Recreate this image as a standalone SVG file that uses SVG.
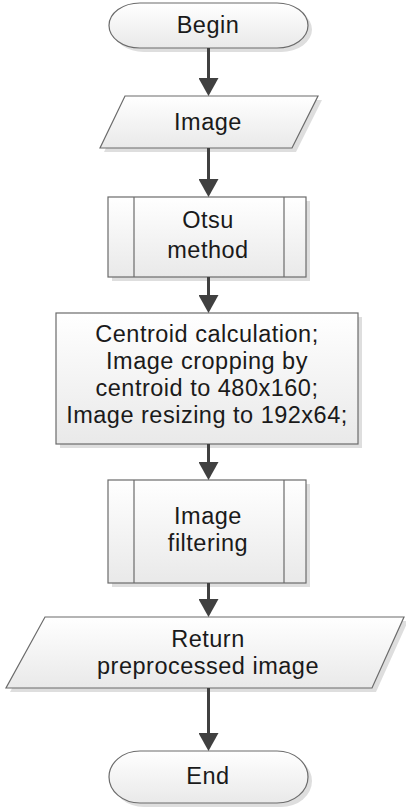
<svg xmlns="http://www.w3.org/2000/svg" width="406" height="809" viewBox="0 0 406 809">
<defs>
<linearGradient id="g" x1="0" y1="0" x2="0" y2="1">
<stop offset="0" stop-color="#ffffff"/>
<stop offset="1" stop-color="#e9e9e9"/>
</linearGradient>
<marker id="ah" viewBox="0 0 18 20" refX="10" refY="10" markerWidth="18" markerHeight="20" markerUnits="userSpaceOnUse" orient="auto">
<path d="M0,0 L18,10 L0,20 z" fill="#404040"/>
</marker>
</defs>
<style>
.sh{fill:#dedede;stroke:none}
.bx{fill:url(#g);stroke:#6b6b6b;stroke-width:1.2}
.in{stroke:#6b6b6b;stroke-width:1.2;fill:none}
.t{font-family:"Liberation Sans",Arial,sans-serif;font-size:23.5px;letter-spacing:0.5px;fill:#1a1a1a;text-anchor:middle}
.c{stroke:#404040;stroke-width:3;fill:none;marker-end:url(#ah)}
</style>
<rect width="406" height="809" fill="#ffffff"/>
<g id="begin">
<path class="sh" transform="translate(4,4)" d="M140,3 H277 A31,22.5 0 0 1 277,48 H140 A31,22.5 0 0 1 140,3 Z"/>
<path class="bx" d="M140,3 H277 A31,22.5 0 0 1 277,48 H140 A31,22.5 0 0 1 140,3 Z"/>
<text class="t" x="208" y="33">Begin</text>
</g>
<g id="image">
<polygon class="sh" transform="translate(4,4)" points="125,96 318,96 292,148 100,148"/>
<polygon class="bx" points="125,96 318,96 292,148 100,148"/>
<text class="t" x="208" y="130">Image</text>
</g>
<g id="otsu">
<rect class="sh" x="112" y="201" width="198" height="80"/>
<rect class="bx" x="108" y="197" width="198" height="80"/>
<line class="in" x1="134" y1="197" x2="134" y2="277"/>
<line class="in" x1="284" y1="197" x2="284" y2="277"/>
<text class="t" x="208" y="228">Otsu</text>
<text class="t" x="208" y="258">method</text>
</g>
<g id="centroid">
<rect class="sh" x="60" y="317" width="302" height="131"/>
<rect class="bx" x="56" y="313" width="302" height="131"/>
<text class="t" x="207" y="342">Centroid calculation;</text>
<text class="t" x="207" y="369">Image cropping by</text>
<text class="t" x="207" y="396">centroid to 480x160;</text>
<text class="t" x="207" y="423">Image resizing to 192x64;</text>
</g>
<g id="filtering">
<rect class="sh" x="112" y="484" width="198" height="103"/>
<rect class="bx" x="108" y="480" width="198" height="103"/>
<line class="in" x1="134" y1="480" x2="134" y2="583"/>
<line class="in" x1="284" y1="480" x2="284" y2="583"/>
<text class="t" x="208" y="524">Image</text>
<text class="t" x="208" y="551">filtering</text>
</g>
<g id="return">
<polygon class="sh" transform="translate(4,4)" points="45,617 404,617 372,688 6,688"/>
<polygon class="bx" points="45,617 404,617 372,688 6,688"/>
<text class="t" x="208" y="647">Return</text>
<text class="t" x="208" y="674">preprocessed image</text>
</g>
<g id="end">
<path class="sh" transform="translate(4,4)" d="M140,751 H277 A31,26 0 0 1 277,803 H140 A31,26 0 0 1 140,751 Z"/>
<path class="bx" d="M140,751 H277 A31,26 0 0 1 277,803 H140 A31,26 0 0 1 140,751 Z"/>
<text class="t" x="208" y="784">End</text>
</g>
<g id="connectors">
<line class="c" x1="208.5" y1="48" x2="208.5" y2="88"/>
<line class="c" x1="208.5" y1="148" x2="208.5" y2="189"/>
<line class="c" x1="208.5" y1="277" x2="208.5" y2="305"/>
<line class="c" x1="208.5" y1="444" x2="208.5" y2="472"/>
<line class="c" x1="208.5" y1="583" x2="208.5" y2="609"/>
<line class="c" x1="208.5" y1="688" x2="208.5" y2="743"/>
</g>
</svg>
